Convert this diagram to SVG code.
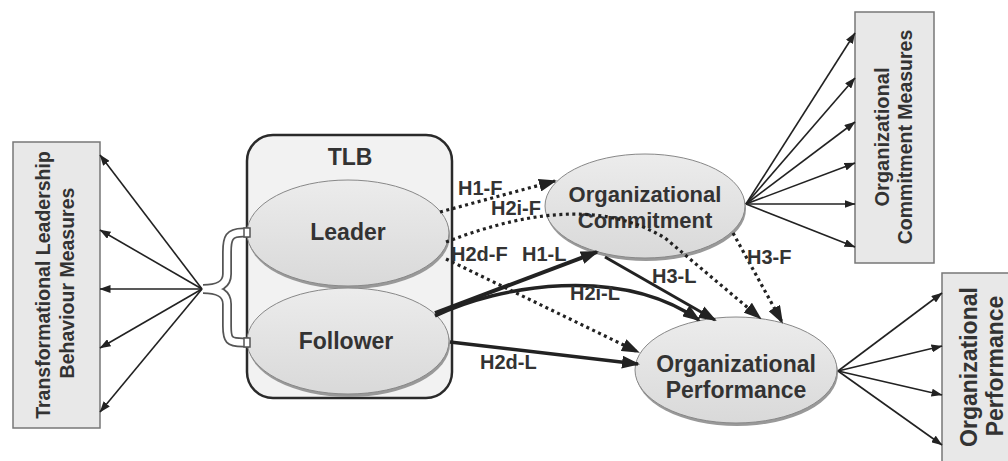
<svg xmlns="http://www.w3.org/2000/svg" width="1008" height="461" viewBox="0 0 1008 461">
  <style>
    text { font-family: "Liberation Sans", Arial, sans-serif; font-weight: bold; fill: #333; }
    .node-t { font-size: 23px; text-anchor: middle; }
    .box-t { font-size: 19.5px; text-anchor: middle; }
    .lbl { font-size: 20px; }
    .box { fill: #e8e8e8; stroke: #777; stroke-width: 1.5; }
    .shadow { fill: #999; }
    .ell { fill: url(#eg); stroke: #888; stroke-width: 1; }
    .thin { fill: none; stroke: #222; stroke-width: 1.6; marker-end: url(#as); }
    .dot { fill: none; stroke: #222; stroke-width: 3.2; stroke-dasharray: 3 3.5; marker-end: url(#ah); }
    .solid { fill: none; stroke: #222; marker-end: url(#ah); }
  </style>
  <defs>
    <linearGradient id="eg" x1="0" y1="0" x2="0" y2="1">
      <stop offset="0" stop-color="#ececec"/>
      <stop offset="1" stop-color="#d9d9d9"/>
    </linearGradient>
    <marker id="ah" viewBox="0 0 18 13" refX="16" refY="6.5" markerWidth="18" markerHeight="13" markerUnits="userSpaceOnUse" orient="auto">
      <path d="M0,0 L18,6.5 L0,13 z" fill="#222"/>
    </marker>
    <marker id="as" viewBox="0 0 11 8" refX="10.5" refY="4" markerWidth="11" markerHeight="8" markerUnits="userSpaceOnUse" orient="auto">
      <path d="M0,0 L11,4 L0,8 z" fill="#222"/>
    </marker>
  </defs>

  <!-- Left measures box -->
  <g id="tlb-measures">
    <rect class="box" x="13" y="142" width="87" height="286"/>
    <text class="box-t" transform="translate(50,285) rotate(-90)">Transformational Leadership</text>
    <text class="box-t" transform="translate(74,283) rotate(-90)">Behaviour Measures</text>
  </g>

  <!-- TLB container -->
  <g id="tlb">
    <rect x="247" y="135" width="205" height="263" rx="26" fill="#f2f2f2" stroke="#2a2a2a" stroke-width="2.5"/>
    <text class="node-t" x="350" y="165">TLB</text>
  </g>

  <g id="leader">
    <ellipse class="shadow" cx="349" cy="236" rx="101" ry="53"/>
    <ellipse class="ell" cx="348" cy="233" rx="101" ry="53"/>
    <text class="node-t" x="348" y="240">Leader</text>
  </g>

  <g id="follower">
    <ellipse class="shadow" cx="349" cy="344" rx="101" ry="53"/>
    <ellipse class="ell" cx="348" cy="341" rx="101" ry="53"/>
    <text class="node-t" x="346" y="349">Follower</text>
  </g>

  <g id="org-commitment">
    <ellipse class="shadow" cx="646" cy="209" rx="100" ry="52"/>
    <ellipse class="ell" cx="645" cy="206" rx="100" ry="52"/>
    <text class="node-t" x="645" y="202" style="font-size:22px">Organizational</text>
    <text class="node-t" x="645" y="228" style="font-size:22px">Commitment</text>
  </g>

  <g id="org-performance">
    <ellipse class="shadow" cx="737" cy="373" rx="101" ry="53"/>
    <ellipse class="ell" cx="736" cy="370" rx="101" ry="53"/>
    <text class="node-t" x="736" y="372">Organizational</text>
    <text class="node-t" x="736" y="398">Performance</text>
  </g>

  <g id="oc-measures">
    <rect class="box" x="855" y="12" width="79" height="251"/>
    <text class="box-t" transform="translate(889,137) rotate(-90)" style="font-size:20px">Organizational</text>
    <text class="box-t" transform="translate(912,137) rotate(-90)">Commitment Measures</text>
  </g>

  <g id="op-measures">
    <rect class="box" x="942" y="273" width="80" height="190"/>
    <text class="box-t" transform="translate(977,367) rotate(-90)" style="font-size:23px">Organizational</text>
    <text class="box-t" transform="translate(1003,366) rotate(-90)" style="font-size:23px">Performance</text>
  </g>

  <g id="connectors">
    <!-- brace -->
    <path d="M249,232.5 L243,232.5 C229,232.5 227,238 227,252 L227,274 C227,285 218,289 203,289 C218,289 227,293 227,304 L227,326 C227,340 229,342.5 243,342.5 L249,342.5" fill="none" stroke="#555" stroke-width="10"/>
    <path d="M249,232.5 L243,232.5 C229,232.5 227,238 227,252 L227,274 C227,285 218,289 203,289 C218,289 227,293 227,304 L227,326 C227,340 229,342.5 243,342.5 L249,342.5" fill="none" stroke="#fff" stroke-width="6.5"/>
    <rect x="244" y="228" width="6" height="9" fill="#fff" stroke="#555" stroke-width="1.5"/>
    <rect x="244" y="338" width="6" height="9" fill="#fff" stroke="#555" stroke-width="1.5"/>

    <!-- left measure arrows -->
    <path class="thin" d="M202,289 L100,155"/>
    <path class="thin" d="M202,289 L100,230"/>
    <path class="thin" d="M202,289 L100,289"/>
    <path class="thin" d="M202,289 L100,348"/>
    <path class="thin" d="M202,289 L100,412"/>

    <!-- OC measure arrows -->
    <path class="thin" d="M746,204 L855,33"/>
    <path class="thin" d="M746,204 L855,78"/>
    <path class="thin" d="M746,204 L855,122"/>
    <path class="thin" d="M746,204 L855,163"/>
    <path class="thin" d="M746,204 L855,204"/>
    <path class="thin" d="M746,204 L855,247"/>

    <!-- OP measure arrows -->
    <path class="thin" d="M838,371 L942,293"/>
    <path class="thin" d="M838,371 L942,346"/>
    <path class="thin" d="M838,371 L942,395"/>
    <path class="thin" d="M838,371 L942,445"/>

    <!-- hypotheses -->
    <path class="dot" d="M440,212 L555,181"/>
    <path class="dot" d="M446,242 C540,206 610,205 665,238 L760,318"/>
    <path class="dot" d="M446,259 L638,352"/>
    <path class="dot" d="M733,233 L782,322"/>
    <path class="solid" stroke-width="4" d="M435,313 L597,252"/>
    <path class="solid" stroke-width="3.5" d="M435,316 C500,285 620,265 699,320"/>
    <path class="solid" stroke-width="3" d="M605,257 L715,320"/>
    <path class="solid" stroke-width="3.5" d="M450,342 L638,364"/>

    <text class="lbl" x="458" y="195">H1-F</text>
    <text class="lbl" x="491" y="215">H2i-F</text>
    <text class="lbl" x="451" y="261">H2d-F</text>
    <text class="lbl" x="522" y="261">H1-L</text>
    <text class="lbl" x="570" y="300">H2i-L</text>
    <text class="lbl" x="652" y="283">H3-L</text>
    <text class="lbl" x="747" y="264">H3-F</text>
    <text class="lbl" x="480" y="369">H2d-L</text>
  </g>
</svg>
